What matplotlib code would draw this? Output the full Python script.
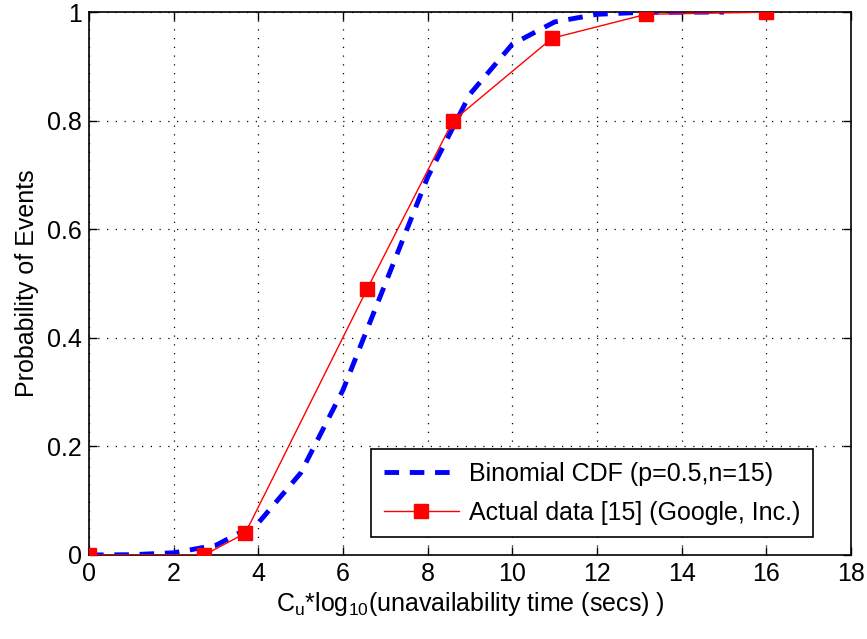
import matplotlib
matplotlib.use("Agg")
import matplotlib.pyplot as plt

plt.rcParams['font.family'] = ['Liberation Sans', 'DejaVu Sans']
plt.rcParams['mathtext.fontset'] = 'custom'
plt.rcParams['mathtext.rm'] = 'Liberation Sans'

# Binomial CDF
binom_x = list(range(16))
binom_y = [0.0, 0.0005, 0.004, 0.018, 0.059, 0.151, 0.304, 0.5,
           0.696, 0.849, 0.941, 0.982, 0.996, 0.9995, 1.0, 1.0]

# Actual data points (red squares)
actual_x = [0, 2.72, 3.69, 6.57, 8.6, 10.94, 13.16, 16.0]
actual_y = [0.0, 0.0, 0.04, 0.49, 0.80, 0.952, 0.996, 1.0]

xticks = list(range(0, 19, 2))
yticks = [0, 0.2, 0.4, 0.6, 0.8, 1]
ytick_labels = ["0", "0.2", "0.4", "0.6", "0.8", "1"]

fig = plt.figure(figsize=(8.67, 6.39), dpi=100)
ax = fig.add_axes([0.1027, 0.1315, 0.8788, 0.8495])

ax.plot(binom_x, binom_y, color="#0000ff", linestyle=(0, (3.0, 2.2)),
        linewidth=3.5, label="Binomial CDF (p=0.5,n=15)", zorder=3)
ax.plot(actual_x, actual_y, color="#ff0000", linewidth=1.0, marker="s",
        markersize=10, markeredgecolor="#ff0000", markerfacecolor="#ff0000",
        label="Actual data [15] (Google, Inc.)", zorder=4)

ax.set_xlim(0, 18)
ax.set_ylim(0, 1)
ax.set_xticks(xticks)
ax.set_yticks(yticks)
ax.set_yticklabels(ytick_labels)
ax.tick_params(direction="in", length=6, width=1, labelsize=18,
               top=True, right=True, pad=5)
ax.grid(True, linestyle=(0, (1, 6)), color="black", linewidth=0.9)
for s in ax.spines.values():
    s.set_linewidth(1.2)

ax.set_xlabel(r"C$_\mathregular{u}$*log$_\mathregular{10}$(unavailability time (secs) )",
              fontsize=18, labelpad=3)
ax.set_ylabel("Probability of Events", fontsize=18, labelpad=6)

leg = ax.legend(loc="lower right", fontsize=18, frameon=True, fancybox=False,
                edgecolor="black", framealpha=1, handlelength=3.0,
                borderpad=0.5, labelspacing=0.6, handletextpad=0.4,
                borderaxespad=0, bbox_to_anchor=(0.95, 0.033))
leg.get_frame().set_linewidth(1.2)

fig.savefig("out.png", dpi=100)
